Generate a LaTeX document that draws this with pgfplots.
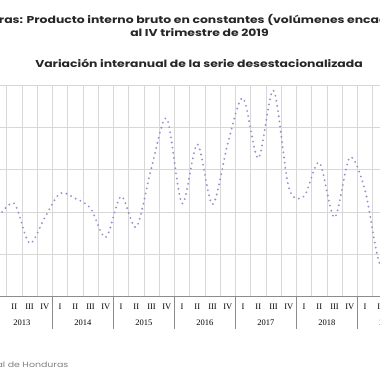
\documentclass[border=0pt]{standalone}
\usepackage{fontspec}
\setmainfont{Liberation Serif}
\newfontfamily\gothic[FakeStretch=1.24]{Poppins}
\usepackage{pgfplots}
\pgfplotsset{compat=1.18}
\definecolor{dotc}{RGB}{160,140,202}
\definecolor{gridc}{RGB}{215,215,215}
\definecolor{axc}{RGB}{140,140,140}
\pgfplotstableread{
k v
0 2.90
1 3.20
2 2.26
3 2.87
4 3.44
5 3.32
6 3.09
7 2.40
8 3.37
9 2.64
10 4.05
11 5.21
12 3.20
13 4.60
14 3.18
15 4.62
16 5.69
17 4.27
18 5.87
19 3.58
20 3.37
21 4.17
22 2.87
23 4.29
24 3.51
25 1.74
26 2.20
27 2.90
}\pib
\begin{document}
\begin{tikzpicture}[x=1pt,y=1pt]
\useasboundingbox (0,0) rectangle (380,380);
\clip (0,0) rectangle (380,380);
\node[font=\gothic\bfseries\fontsize{10}{11}\selectfont, text=black!85, inner sep=0pt] at (199,360) {Honduras: Producto interno bruto en constantes (volúmenes encadenados)};
\node[font=\gothic\bfseries\fontsize{10}{11}\selectfont, text=black!85, inner sep=0pt] at (199.5,347) {al IV trimestre de 2019};
\node[font=\gothic\bfseries\fontsize{10}{11}\selectfont, text=black!85, inner sep=0pt] at (199,317) {Variación interanual de la serie desestacionalizada};
\node[font=\gothic\fontsize{7.6}{9}\selectfont, text=black!50, anchor=east, inner sep=0pt] at (68.5,15) {Fuente: Banco Central de Honduras};
\begin{axis}[
  at={(-8.6pt,83.4pt)}, anchor=south west, scale only axis,
  width=427pt, height=211.6pt,
  xmin=-0.5, xmax=27.5, ymin=1, ymax=6,
  clip mode=individual,
  axis line style={draw=none},
  xtick={0,...,27},
  xticklabels={{},II,III,IV,I,II,III,IV,I,II,III,IV,I,II,III,IV,I,II,III,IV,I,II,III,IV,I,II,III,IV},
  xtick pos=bottom, ytick pos=left,
  major tick length=0pt, minor tick length=0pt,
  minor xtick={-0.5,0.5,...,27.5},
  xminorgrids=true, xmajorgrids=false, ymajorgrids=true,
  ytick={1,2,3,4,5,6}, yticklabels={},
  major grid style={draw=gridc, line width=0.8pt},
  minor grid style={draw=gridc, line width=0.8pt},
  xticklabel style={font=\fontsize{8.5}{10}\selectfont, anchor=north, inner sep=0pt, yshift=-7pt},
  extra x ticks={3.5,7.5,11.5,15.5,19.5,23.5},
  extra x tick labels={},
  extra x tick style={grid=none, major tick length=32pt, tick align=outside, tick style={draw=axc, line width=0.6pt}},
]
\addplot[dotc, line width=2.1pt, line cap=round, dash pattern=on 0pt off 5.2pt, smooth] table[x=k, y=v] {\pib};
\draw[axc, line width=0.8pt] (axis cs:-0.5,1) -- (axis cs:27.5,1);
\node[font=\fontsize{8.5}{10}\selectfont, anchor=base, yshift=-29pt] at (axis cs:1.5,1) {2013};
\node[font=\fontsize{8.5}{10}\selectfont, anchor=base, yshift=-29pt] at (axis cs:5.5,1) {2014};
\node[font=\fontsize{8.5}{10}\selectfont, anchor=base, yshift=-29pt] at (axis cs:9.5,1) {2015};
\node[font=\fontsize{8.5}{10}\selectfont, anchor=base, yshift=-29pt] at (axis cs:13.5,1) {2016};
\node[font=\fontsize{8.5}{10}\selectfont, anchor=base, yshift=-29pt] at (axis cs:17.5,1) {2017};
\node[font=\fontsize{8.5}{10}\selectfont, anchor=base, yshift=-29pt] at (axis cs:21.5,1) {2018};
\node[font=\fontsize{8.5}{10}\selectfont, anchor=base, yshift=-29pt] at (axis cs:25.5,1) {2019};
\end{axis}
\end{tikzpicture}
\end{document}
